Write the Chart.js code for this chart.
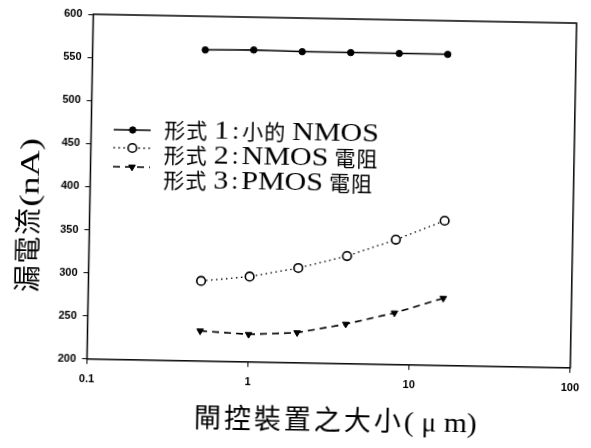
<!DOCTYPE html>
<html>
<head>
<meta charset="utf-8">
<script src="https://cdn.jsdelivr.net/npm/chart.js@4"></script>
<style>
  html, body { margin: 0; padding: 0; background: #fff; overflow: hidden; }
  /* the scanned figure sits about 1 degree clockwise */
  #wrap { width: 591px; height: 448px; transform: rotate(1.05deg); transform-origin: 295.5px 224px; }
</style>
</head>
<body>
<div id="wrap"><canvas id="leakChart"></canvas></div>
<script>
// Gate size (um)
const gateSize = [0.5, 1, 2, 4, 8, 16];
// Leakage current (nA)
const type1 = [561, 562, 561, 561, 561, 561];
const type2 = [293, 299, 310, 325, 345, 368];
const type3 = [235, 232, 235, 246, 260, 278];

const seriesLabels = ['形式 1：小的 NMOS', '形式 2：NMOS 電阻', '形式 3：PMOS 電阻'];
const xTickValues = [0.1, 1, 10, 100];
const xTitle = '閘控裝置之大小(μm)';
const yTitle = '漏電流(nA)';

const LATIN = '"Liberation Serif", serif';
const CJK = '"Noto Sans CJK TC", sans-serif';

function toPoints(ys) {
    return gateSize.map((x, i) => ({ x: x, y: ys[i] }));
}

// draws a mixed CJK / latin string char by char, CJK on a fixed pitch,
// latin chars a bit wider like the original typesetting
function drawMixed(ctx, text, x, y, st) {
    let cx = x;
    for (const ch of text) {
        const code = ch.codePointAt(0);
        if (ch === ' ') { cx += st.space; continue; }
        if (ch === '：') {
            ctx.font = st.latinSize + 'px ' + LATIN;
            ctx.textAlign = 'center';
            ctx.fillText(':', cx + st.colonStep / 2, y);
            ctx.textAlign = 'left';
            cx += st.colonStep;
            continue;
        }
        if (code >= 0x2E80) {
            ctx.font = st.cjkSize + 'px ' + CJK;
            ctx.fillText(ch, cx, y);
            cx += st.cjkStep;
        } else if (code >= 0x370 && code < 0x400) {
            // greek (mu) sits in a full width box
            ctx.font = st.latinSize + 'px ' + LATIN;
            ctx.textAlign = 'center';
            ctx.fillText(ch, cx + st.cjkStep / 2, y);
            ctx.textAlign = 'left';
            cx += st.cjkStep;
        } else {
            ctx.font = st.latinSize + 'px ' + LATIN;
            const w = ctx.measureText(ch).width;
            ctx.save();
            ctx.translate(cx, y);
            ctx.scale(st.stretch, 1);
            ctx.fillText(ch, 0, 0);
            ctx.restore();
            cx += w * st.stretch;
        }
    }
}

// Box around the plot, legend and axis titles
const extrasPlugin = {
    id: 'extras',
    afterDraw(chart) {
        const ctx = chart.ctx;
        const area = chart.chartArea;
        ctx.save();
        ctx.strokeStyle = '#000';
        ctx.lineWidth = 1.5;
        ctx.strokeRect(area.left, area.top, area.right - area.left, area.bottom - area.top);

        // legend
        const symRows = [133, 151, 170];
        const textRows = [140, 165, 190];
        const legendStyle = { cjkSize: 21, cjkStep: 22, latinSize: 25, stretch: 1.2, space: 6, colonStep: 13 };
        chart.data.datasets.forEach((ds, i) => {
            const y = symRows[i];
            ctx.beginPath();
            ctx.setLineDash(ds.borderDash || []);
            ctx.lineWidth = ds.borderWidth;
            ctx.strokeStyle = '#000';
            ctx.moveTo(112, y);
            ctx.lineTo(149, y);
            ctx.stroke();
            ctx.setLineDash([]);
            ctx.fillStyle = ds.pointBackgroundColor;
            ctx.lineWidth = ds.pointBorderWidth || 1;
            Chart.helpers.drawPoint(ctx, {
                pointStyle: ds.pointStyle,
                rotation: ds.pointRotation || 0,
                radius: ds.pointRadius,
                borderWidth: ds.pointBorderWidth || 1
            }, 131, y);

            ctx.fillStyle = '#000';
            ctx.textBaseline = 'alphabetic';
            ctx.textAlign = 'left';
            drawMixed(ctx, ds.label, 162.5, textRows[i], legendStyle);
        });

        // axis titles
        ctx.fillStyle = '#000';
        ctx.textBaseline = 'alphabetic';
        ctx.textAlign = 'left';
        drawMixed(ctx, xTitle, 197.5, 429,
            { cjkSize: 27, cjkStep: 30, latinSize: 27, stretch: 1.1, space: 3, colonStep: 13 });
        ctx.translate(27.5, 297);
        ctx.rotate(-Math.PI / 2);
        drawMixed(ctx, yTitle, 0, 10,
            { cjkSize: 27, cjkStep: 28.5, latinSize: 28, stretch: 1.3, space: 3, colonStep: 13 });
        ctx.restore();
    }
};

const tickFont = { family: '"Liberation Sans", Arial, sans-serif', size: 11, weight: 'bold' };

const leakCtx = document.getElementById('leakChart').getContext('2d');

const leakChart = new Chart(leakCtx, {
    type: 'line',
    data: {
        datasets: [{
            label: seriesLabels[0],
            data: toPoints(type1),
            borderColor: '#000',
            borderWidth: 1.5,
            pointStyle: 'circle',
            pointRadius: 3.2,
            pointBackgroundColor: '#000',
            pointBorderColor: '#000',
            pointBorderWidth: 1
        }, {
            label: seriesLabels[1],
            data: toPoints(type2),
            borderColor: '#000',
            borderWidth: 1.3,
            borderDash: [1.5, 3.5],
            pointStyle: 'circle',
            pointRadius: 4.3,
            pointBackgroundColor: '#fff',
            pointBorderColor: '#000',
            pointBorderWidth: 1.6
        }, {
            label: seriesLabels[2],
            data: toPoints(type3),
            borderColor: '#000',
            borderWidth: 1.6,
            borderDash: [7, 5],
            pointStyle: 'triangle',
            pointRotation: 180,
            pointRadius: 3.8,
            pointBackgroundColor: '#000',
            pointBorderColor: '#000',
            pointBorderWidth: 1
        }]
    },
    options: {
        responsive: true,
        maintainAspectRatio: false,
        animation: false,
        layout: { padding: { top: 18, right: 11.5, left: 0, bottom: 0 } },
        plugins: {
            legend: { display: false },
            tooltip: { enabled: false }
        },
        scales: {
            x: {
                type: 'logarithmic',
                min: 0.1,
                max: 100,
                afterBuildTicks(scale) {
                    scale.ticks = xTickValues.map(v => ({ value: v }));
                },
                afterFit(scale) { scale.height = 85.2; },
                grid: { drawOnChartArea: false, drawTicks: true, tickLength: 5, color: '#000' },
                border: { display: false },
                ticks: {
                    color: '#000',
                    padding: 9,
                    maxRotation: 0,
                    autoSkip: false,
                    font: tickFont,
                    callback: (v) => String(v)
                }
            },
            y: {
                min: 200,
                max: 600,
                afterFit(scale) { scale.width = 89.5; },
                grid: { drawOnChartArea: false, drawTicks: true, tickLength: 5, color: '#000' },
                border: { display: false },
                ticks: {
                    stepSize: 50,
                    color: '#000',
                    padding: 6,
                    font: tickFont
                }
            }
        }
    },
    plugins: [extrasPlugin]
});
</script>
</body>
</html>
